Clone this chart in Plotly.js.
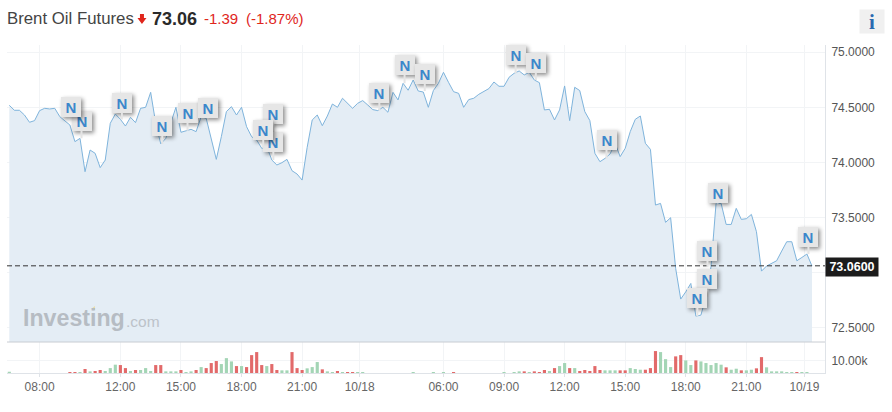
<!DOCTYPE html>
<html>
<head>
<meta charset="utf-8">
<script src="https://cdn.plot.ly/plotly-3.0.1.min.js"></script>
<style>
html,body{margin:0;padding:0;background:#fff}
#chart{width:892px;height:412px}
.annotation rect.bg[style*="rgb(230, 230, 230)"]{filter:drop-shadow(2px 2px 2px rgba(0,0,0,.45))}
</style>
</head>
<body>
<div id="chart"></div>
<script>
var prices = [74.518,74.473,74.473,74.43,74.364,74.379,74.47,74.491,74.485,74.491,
74.415,74.379,74.339,74.188,74.218,73.915,74.112,74.082,73.952,74.021,
74.355,74.439,74.391,74.33,74.409,74.361,74.491,74.5,74.636,74.355,
74.167,74.218,74.355,74.5,74.273,74.288,74.3,74.279,74.415,74.4,
74.203,74.027,74.233,74.461,74.506,74.43,74.5,74.324,74.233,74.203,
74.127,74.142,74.021,73.976,73.997,74.027,73.924,73.894,73.839,74.136,
74.385,74.43,74.333,74.421,74.53,74.5,74.582,74.536,74.491,74.536,
74.561,74.521,74.479,74.47,74.5,74.455,74.636,74.567,74.718,74.655,
74.748,74.648,74.639,74.5,74.652,74.718,74.818,74.727,74.642,74.627,
74.5,74.57,74.582,74.618,74.648,74.67,74.73,74.691,74.691,74.773,
74.809,74.83,74.794,74.818,74.748,74.724,74.476,74.482,74.385,74.476,
74.694,74.379,74.682,74.652,74.461,74.379,74.082,74.006,74.036,74.076,
74.173,74.052,74.127,74.279,74.391,74.421,74.173,74.118,73.612,73.627,
73.455,73.497,73.036,72.758,72.824,72.9,72.603,72.612,72.779,73.052,
73.627,73.627,73.436,73.436,73.582,73.482,73.488,73.527,73.37,73.012,
73.058,73.082,73.106,73.194,73.279,73.279,73.106,73.136,73.167,73.058];

var volumes = [1,0,0,0,0,0,0,0,0,0,
0,0,.8,.8,.8,3.2,1.3,1.6,2.4,1.6,
3.9,6.6,6.3,3.9,1.6,2.4,2.4,3.9,1.6,6.3,
6.3,1.3,1.3,1.3,2.4,.8,1.3,2.4,4.7,3.9,
7.9,9.5,7.1,11.8,9.2,5.5,5.5,4.7,14.2,16.6,
6.3,5.5,7.1,2.4,2.1,2.1,16.6,3.9,2.4,3.7,
4.7,8.7,2.9,1.3,.8,1.6,.8,.8,.8,.8,
.8,0,0,0,0,0,0,0,0,0,
.8,0,0,0,.8,0,.8,0,.8,0,
0,0,0,0,0,0,0,0,.8,0,
.8,1.3,1.3,.8,1.3,.8,2.4,1.6,3.9,5.5,
7.9,3.9,3.9,1.6,2.4,1.6,5.5,2.4,2.1,2.1,
2.1,2.1,2.1,3.9,3.2,2.6,2.6,3.9,17.4,16.6,
11,4.7,13.2,14.2,10,6.3,10,9.2,7.9,6.3,
7.9,6.6,4.5,2.6,3.4,2.1,2.1,2.6,3.7,12.6,
4.5,1.3,1.3,1.3,.8,.8,.8,.8,.8,0];

var volumeSideList = ["g","g","g","g","g","g","g","g","g","g",
"g","g","r","r","g","r","g","r","r","g",
"g","g","r","r","g","r","g","g","g","r",
"r","g","g","g","r","g","g","r","g","r",
"r","r","g","g","g","r","g","r","r","r",
"r","g","r","r","g","g","r","r","r","g",
"g","g","r","g","g","r","g","r","r","g",
"g","g","g","g","g","g","g","g","g","g",
"g","g","g","g","g","g","g","g","r","g",
"g","g","g","g","g","g","g","g","g","g",
"g","g","r","g","r","r","r","g","r","g",
"g","r","g","r","r","r","r","r","g","g",
"g","r","r","g","g","g","r","r","r","g",
"g","g","r","r","g","g","r","g","g","g",
"g","g","r","g","g","r","g","g","r","r",
"g","g","g","g","g","g","r","g","g","g"];

var tickIndex = [6,22,34,46,58,69.4,86,98,110,122,134,146,157.5];
var tickLabels = ["08:00","12:00","15:00","18:00","21:00","10/18","06:00","09:00","12:00","15:00","18:00","21:00","10/19"];
var priceTicks = [72.5,73,73.5,74,74.5,75];
var priceTickLabels = ["72.5000","","73.5000","74.0000","74.5000","75.0000"];

var newsIndex = [14,12,22,30,35,39,52,52,50,73,78,82,100,104,118,140,138,138,136,158];
var newsFlagPrice = [74.38,74.503,74.542,74.33,74.451,74.494,74.439,74.185,74.294,74.63,74.885,74.803,74.975,74.906,74.203,73.721,73.194,72.939,72.767,73.321];
var newsTipPrice = [74.218,74.42,74.39,74.167,74.288,74.4,74.142,74.021,74.127,74.47,74.718,74.648,74.809,74.748,74.036,73.627,73.05,72.78,72.603,73.167];

var lastPrice = 73.06;
var xs = prices.map(function(_, i){return i;});
var annotations = [];

newsIndex.forEach(function(ix, k){
  annotations.push({
    x: ix, y: newsTipPrice[k], xref:'x', yref:'y',
    ax: ix, ay: newsFlagPrice[k], axref:'x', ayref:'y', xshift:1.5,
    showarrow:true, arrowhead:0, arrowwidth:2, arrowcolor:'#e4e4e4',
    text:'<b>N</b>', width:20, height:20, borderpad:0, borderwidth:0,
    bgcolor:'#e6e6e6', font:{family:'Liberation Sans',size:15,color:'#3b87cb'},
    standoff:0, startstandoff:0
  });
});

function label(text, x, y, size, color, anchor, extra){
  var a = {text:text, x:x, y:y, xref:'paper', yref:'paper', xanchor:anchor||'left', yanchor:'middle',
    showarrow:false, font:{family:'Liberation Sans',size:size,color:color}, borderpad:0};
  for (var k in extra||{}) a[k]=extra[k];
  return a;
}

// paper coords: plot area occupies x 7..825.3, y 45..373
function px(x){return (x-7)/818.3;}
function py(y){return (373-y)/328;}

annotations.push(label('Brent Oil Futures', px(6), py(19), 16.8, '#444444'));
annotations.push(label('<b>73.06</b>', px(151), py(19), 18, '#2a2a2a'));
annotations.push(label('-1.39', px(203), py(19), 15, '#e0261c'));
annotations.push(label('(-1.87%)', px(245), py(19), 15, '#e0261c'));

annotations.push(label('<b>73.0600</b>', px(852), py(267), 12.5, '#ffffff', 'center',
  {bgcolor:'#1c1c1c', width:52, height:18}));
annotations.push(label('<b>Investing</b>', px(22), py(318), 23.2, '#b6bcc3'));
annotations.push(label('.com', px(125), py(321), 15.5, '#bcc2c9'));
annotations.push(label('<b>i</b>', px(872), py(21.5), 20, '#2a6ab0', 'center',
  {bgcolor:'#f0f0f0', width:24, height:23, font:{family:'Liberation Serif',size:21,color:'#2a6ab0'}}));

var traces = [
  {type:'scatter', mode:'lines', x:xs, y:prices, xaxis:'x', yaxis:'y', fill:'tozeroy',
   fillcolor:'#e4edf5', line:{color:'#7fb4dc',width:1}, hoverinfo:'skip', showlegend:false},
  {type:'bar', x:xs, y:volumes, xaxis:'x', yaxis:'y2', width:0.62,
   marker:{color:volumeSideList.map(function(s){return s==='r'?'#e26a6a':'#a3d5b5';}),line:{width:0}},
   hoverinfo:'skip', showlegend:false}
];

var layout = {
  width:892, height:412, margin:{l:7,r:66.7,t:45,b:39}, paper_bgcolor:'#fff', plot_bgcolor:'#fff',
  font:{family:'Liberation Sans',size:12,color:'#555'}, showlegend:false,
  xaxis:{domain:[0,1], range:[-0.46,161.58], tickmode:'array', tickvals:tickIndex, ticktext:tickLabels,
    showgrid:true, gridcolor:'#f2f4f6', gridwidth:1, ticks:'outside', ticklen:3, tickcolor:'#dfe3e8',
    showline:true, linecolor:'#dfe3e8', linewidth:1, zeroline:false, anchor:'y2',
    tickfont:{family:'Liberation Sans',size:12,color:'#666'}},
  yaxis:{domain:[31/328,1], range:[72.368,75.066], side:'right', tickmode:'array', tickvals:priceTicks, ticktext:priceTickLabels,
    showgrid:true, gridcolor:'#f2f4f6', zeroline:false, showline:true, linecolor:'#dfe3e8', ticks:'outside', ticklen:3, tickcolor:'rgba(0,0,0,0)',
    anchor:'x', tickfont:{family:'Liberation Sans',size:12,color:'#555'}},
  yaxis2:{domain:[0,31/328], range:[0,24.6], side:'right', tickmode:'array', tickvals:[10], ticktext:['10.00k'],
    showgrid:true, gridcolor:'#f2f4f6', zeroline:false, showline:true, linecolor:'#dfe3e8', ticks:'outside', ticklen:3, tickcolor:'rgba(0,0,0,0)',
    anchor:'x', tickfont:{family:'Liberation Sans',size:12,color:'#555'}},
  shapes:[
    {type:'line', xref:'paper', yref:'y', x0:0, x1:1, y0:lastPrice, y1:lastPrice, line:{color:'#333',width:1,dash:'5px,3px'}, layer:'above'},
    {type:'line', xref:'paper', yref:'paper', x0:0, x1:1, y0:31/328, y1:31/328, line:{color:'#c8ccd2',width:1}, layer:'above'},
    {type:'path', xref:'paper', yref:'paper', fillcolor:'#e0261c', line:{width:0},
     path:'M '+px(140)+' '+py(14)+' L '+px(144)+' '+py(14)+' L '+px(144)+' '+py(18)+' L '+px(146.5)+' '+py(18)+' L '+px(142)+' '+py(24)+' L '+px(137.5)+' '+py(18)+' L '+px(140)+' '+py(18)+' Z'},
    {type:'path', xref:'paper', yref:'paper', fillcolor:'#eadfa8', line:{width:0},
     path:'M '+px(91)+' '+py(309)+' L '+px(95)+' '+py(306)+' L '+px(95)+' '+py(310)+' Z'}
  ],
  annotations:annotations
};

Plotly.newPlot('chart', traces, layout, {displayModeBar:false, staticPlot:true});
</script>
</body>
</html>
